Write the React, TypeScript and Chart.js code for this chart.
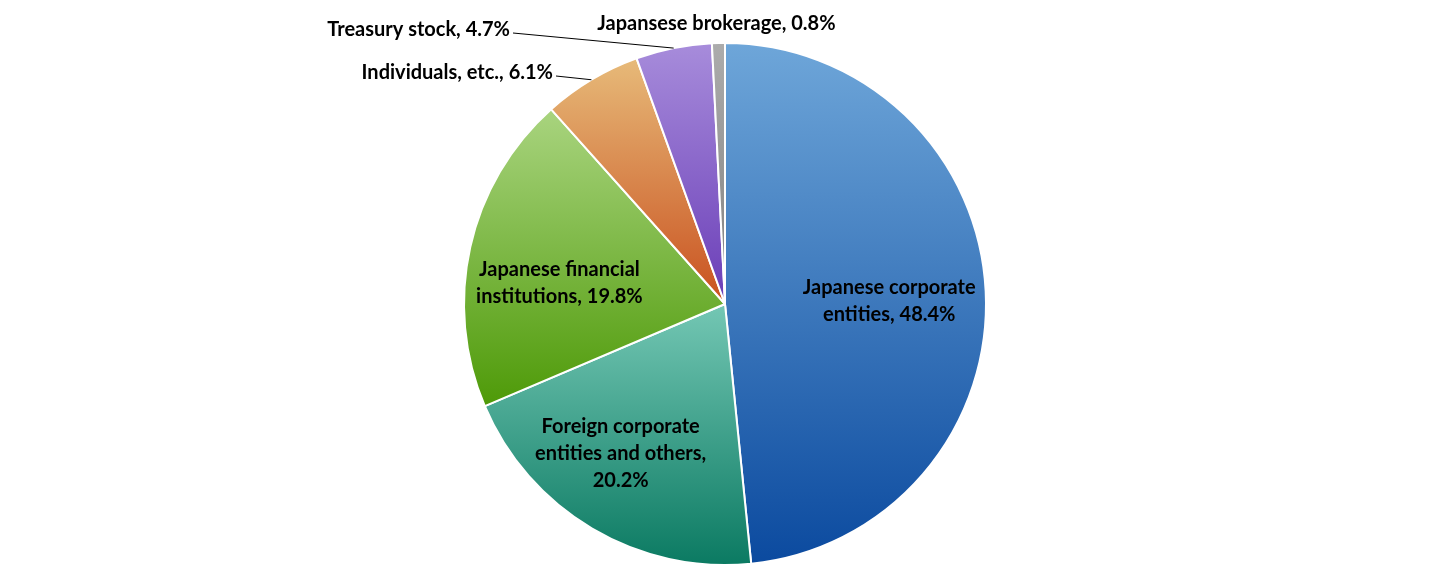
import React, { useEffect, useRef } from 'react';
import { Chart, registerables } from 'chart.js';
import type { ChartConfiguration, Plugin } from 'chart.js';

Chart.register(...registerables);

// data
const categories = [
  'Japanese corporate entities',
  'Foreign corporate entities and others',
  'Japanese financial institutions',
  'Individuals, etc.',
  'Treasury stock',
  'Japansese brokerage',
];
const shares = [48.4, 20.2, 19.8, 6.1, 4.7, 0.8];

// label text lines (Excel wraps them)
const labelLines = [
  ['Japanese corporate', 'entities, 48.4%'],
  ['Foreign corporate', 'entities and others,', '20.2%'],
  ['Japanese financial', 'institutions, 19.8%'],
  ['Individuals, etc., 6.1%'],
  ['Treasury stock, 4.7%'],
  ['Japansese brokerage, 0.8%'],
];

// gradient stops per slice (top, bottom)
const topColors = ['#6ea6d9', '#74c7b4', '#a9d47f', '#e7ba79', '#a78cdb', '#acacac'];
const bottomColors = ['#0b4a9f', '#0b7a62', '#4e9a08', '#c9511f', '#6a3db7', '#7f7f7f'];

const FONT = 'bold 20px Lato, "Open Sans", sans-serif';

// vertical extent of a slice, for the per-slice gradient
function arcYRange(cy: number, r: number, a0: number, a1: number): [number, number] {
  const ys = [cy, cy + r * Math.sin(a0), cy + r * Math.sin(a1)];
  for (let k = -4; k <= 8; k++) {
    const a = (k * Math.PI) / 2 + Math.PI / 2; // bottom / top points
    if (a > a0 && a < a1) ys.push(cy + r * Math.sin(a));
  }
  return [Math.min(...ys), Math.max(...ys)];
}

// Excel-like fill: each slice gets its own top-to-bottom gradient
const gradientPlugin: Plugin<'pie'> = {
  id: 'sliceGradients',
  beforeDatasetsDraw(chart) {
    const meta = chart.getDatasetMeta(0);
    meta.data.forEach((el: any, i: number) => {
      const { y, startAngle, endAngle, outerRadius } = el;
      const [y0, y1] = arcYRange(y, outerRadius, startAngle, endAngle);
      const g = chart.ctx.createLinearGradient(0, y0, 0, y1);
      g.addColorStop(0, topColors[i]);
      g.addColorStop(1, bottomColors[i]);
      el.options.backgroundColor = g;
    });
  },
};

const labelPlugin: Plugin<'pie'> = {
  id: 'sliceLabels',
  afterDatasetsDraw(chart) {
    const ctx = chart.ctx;
    const meta = chart.getDatasetMeta(0);
    ctx.save();
    ctx.font = FONT;
    ctx.fillStyle = '#000';
    ctx.textBaseline = 'middle';
    const lineH = 27;
    meta.data.forEach((el: any, i: number) => {
      const { x, y, startAngle, endAngle, outerRadius } = el;
      const mid = (startAngle + endAngle) / 2;
      const lines = labelLines[i];
      if (i < 3) {
        // inside labels, nudged like Excel placed them
        const rf = [0.63, 0.68, 0.65][i];
        const nx = [0, -14, 0][i];
        const ny = [5, -3, 16][i];
        const lx = x + Math.cos(mid) * outerRadius * rf + nx;
        const ly = y + Math.sin(mid) * outerRadius * rf + ny;
        ctx.textAlign = 'center';
        const y0 = ly - ((lines.length - 1) * lineH) / 2;
        lines.forEach((t, j) => ctx.fillText(t, lx, y0 + j * lineH));
        return;
      }
      const ex = x + Math.cos(mid) * outerRadius;
      const ey = y + Math.sin(mid) * outerRadius;
      if (i === 5) {
        ctx.textAlign = 'center';
        ctx.fillText(lines[0], ex - 2, ey - 20);
        return;
      }
      // outside labels with leader lines
      const tx = i === 3 ? x - 172 : x - 215;
      const ty = i === 3 ? y - 231 : y - 274;
      ctx.textAlign = 'right';
      ctx.fillText(lines[0], tx, ty);
      ctx.strokeStyle = '#000';
      ctx.lineWidth = 1;
      ctx.beginPath();
      ctx.moveTo(tx + 3, ty + 3);
      ctx.lineTo(ex, ey);
      ctx.stroke();
    });
    ctx.restore();
  },
};

const OwnershipPie: React.FC = () => {
  const chartRef = useRef<HTMLCanvasElement>(null);
  const chartInstanceRef = useRef<Chart | null>(null);

  useEffect(() => {
    document.body.style.margin = '0';
    if (!chartRef.current) return;
    const ctx = chartRef.current.getContext('2d');
    if (!ctx) return;

    const config: ChartConfiguration<'pie'> = {
      type: 'pie',
      data: {
        labels: categories,
        datasets: [
          {
            data: shares,
            borderColor: '#ffffff',
            borderWidth: 2,
            backgroundColor: topColors,
          },
        ],
      },
      options: {
        responsive: false,
        animation: false,
        layout: { padding: { top: 42, bottom: 0, left: 13, right: 0 } },
        plugins: {
          legend: { display: false },
          tooltip: { enabled: false },
        },
      },
      plugins: [gradientPlugin, labelPlugin],
    };

    chartInstanceRef.current = new Chart(ctx, config);
    return () => {
      if (chartInstanceRef.current) {
        chartInstanceRef.current.destroy();
        chartInstanceRef.current = null;
      }
    };
  }, []);

  return (
    <div style={{ width: 1437, height: 566, background: '#fff' }}>
      <canvas ref={chartRef} width={1437} height={566}></canvas>
    </div>
  );
};

export default function App() {
  return <OwnershipPie />;
}
